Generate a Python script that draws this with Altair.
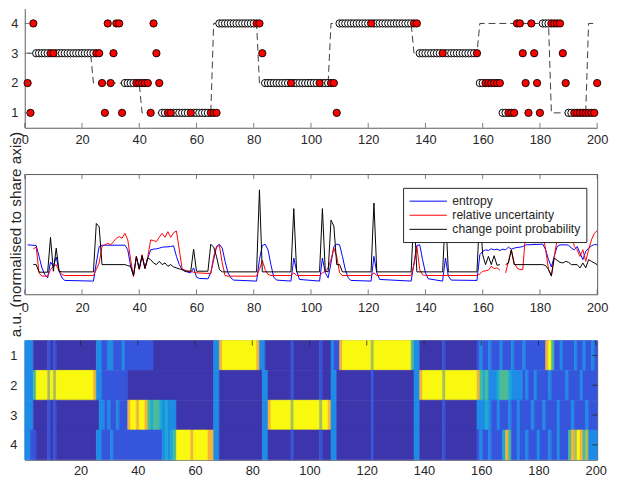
import altair as alt
import pandas as pd

FONT = "Liberation Sans"
TXT = "#262626"
AXC = "#5a5a5a"
W = 581
H_TOP = 121
H_MID = 122
H_BOT = 121

# ---------------- top panel: hidden state (dashed) ----------------
state_start = [1, 24, 41, 66, 82, 107, 136, 159, 184, 197]
state_end = [23, 40, 65, 81, 106, 135, 158, 183, 196, 200]
state_value = [3, 2, 1, 4, 2, 4, 3, 4, 1, 4]

# ---------------- top panel: choices (runs) ----------------
choice_start = [1, 2, 3, 4, 27, 28, 29, 30, 31, 32, 34, 35, 44, 45, 46, 47, 48, 68, 83, 84,
                109, 110, 138, 159, 167, 172, 174, 175, 176, 177, 178, 179, 180, 181, 188, 189, 190, 200]
choice_end = [1, 2, 3, 26, 27, 28, 29, 30, 31, 33, 34, 43, 44, 45, 46, 47, 67, 82, 83, 108,
              109, 137, 158, 166, 171, 173, 174, 175, 176, 177, 178, 179, 180, 187, 188, 189, 199, 200]
choice_value = [2, 1, 4, 3, 2, 1, 4, 2, 3, 4, 1, 2, 1, 4, 3, 2, 1, 4, 3, 2,
                1, 4, 3, 2, 1, 4, 3, 2, 1, 4, 3, 2, 1, 4, 3, 2, 1, 2]
red_trials = [1, 2, 3, 9, 10, 25, 26, 27, 28, 29, 30, 31, 32, 33, 34, 39, 40, 41, 42, 43, 44, 45, 46, 47,
              50, 51, 58, 65, 66, 67, 81, 82, 83, 93, 103, 107, 108, 109, 121, 136, 137, 146, 158,
              161, 162, 163, 164, 165, 166, 169, 170, 171, 172, 173, 174, 175, 176, 177, 178, 179, 180,
              184, 185, 186, 187, 188, 189, 192, 193, 194, 195, 196, 197, 198, 199, 200]

# ---------------- middle panel (a.u.) ----------------
entropy = [(1, 150), (4, 148), (5, 115), (6, 80), (7, 60), (8, 50), (9, 98), (10, 85), (11, 113), (12, 70),
           (13, 50), (14, 42), (24, 40), (25, 95), (26, 145), (27, 149), (35, 149), (36, 135), (37, 85),
           (38, 57), (39, 113), (40, 77), (41, 117), (42, 79), (43, 110), (44, 135), (45, 137), (46, 138),
           (47, 140), (48, 143), (50, 144), (51, 145), (52, 147), (53, 115), (54, 90), (55, 75), (56, 70),
           (57, 67), (58, 65), (59, 80), (60, 52), (61, 48), (64, 47), (65, 65), (66, 105), (67, 145),
           (68, 152), (69, 140), (70, 100), (71, 65), (72, 50), (73, 43), (81, 40), (82, 105), (83, 148),
           (84, 152), (85, 135), (86, 90), (87, 52), (88, 43), (93, 40), (94, 110), (95, 70), (96, 45),
           (103, 40), (104, 110), (105, 65), (106, 50), (107, 95), (108, 145), (109, 152), (110, 150),
           (111, 115), (112, 75), (113, 50), (114, 42), (121, 40), (122, 115), (123, 65), (124, 45),
           (135, 40), (136, 95), (137, 148), (138, 150), (139, 105), (140, 65), (141, 47), (146, 40),
           (147, 110), (148, 55), (149, 43), (158, 42), (159, 120), (160, 130), (161, 135), (162, 133),
           (163, 138), (164, 135), (165, 137), (166, 133), (167, 137), (168, 135), (169, 143), (170, 137),
           (171, 140), (172, 142), (173, 143), (174, 145), (175, 150), (181, 152), (182, 135), (183, 105),
           (184, 83), (185, 115), (186, 145), (187, 150), (189, 150), (190, 149), (191, 140), (192, 135),
           (193, 145), (194, 125), (195, 105), (196, 130), (197, 140), (198, 147), (199, 151), (200, 150)]

uncert_a = [(3, 138), (4, 143), (5, 65), (6, 55), (8, 55), (9, 75), (10, 85), (11, 90), (12, 70), (13, 60),
            (14, 57), (24, 57), (25, 75), (26, 95), (27, 145), (28, 150), (29, 155), (30, 150), (31, 160),
            (32, 170), (33, 175), (34, 170), (35, 185), (36, 165), (37, 105), (38, 53), (39, 115), (40, 75),
            (41, 120), (42, 77), (43, 115), (44, 165), (45, 163), (46, 160), (47, 173), (48, 185), (49, 173),
            (50, 190), (51, 173), (52, 187), (53, 192), (54, 135), (55, 77), (56, 73), (57, 70), (58, 70),
            (59, 67), (60, 65), (65, 63), (66, 115), (67, 143), (68, 148), (69, 95), (70, 57), (71, 55),
            (81, 55), (82, 75), (83, 103), (84, 75), (85, 60), (86, 57), (93, 57), (94, 65), (95, 57),
            (103, 57), (104, 65), (105, 70), (106, 80), (107, 105), (108, 140), (109, 115), (110, 65),
            (111, 57), (121, 57), (122, 65), (123, 57), (135, 57), (136, 90), (137, 145), (138, 75),
            (139, 59), (140, 57), (158, 57), (159, 62), (160, 70), (161, 71), (162, 73), (163, 85),
            (164, 78), (165, 80), (166, 73)]
uncert_b = [(168, 65), (169, 100), (170, 135), (171, 95), (172, 80), (173, 75), (174, 75), (175, 185),
            (176, 205), (177, 190), (178, 155), (179, 175), (180, 195), (181, 185), (182, 135), (183, 75),
            (184, 57), (185, 115), (186, 165), (187, 190), (188, 185), (189, 170), (190, 180), (191, 190),
            (192, 145), (193, 135), (194, 115), (195, 135), (196, 100), (197, 135), (198, 165), (199, 185),
            (200, 193)]

changep_a = [(3, 90), (4, 90), (5, 67), (8, 67), (9, 173), (10, 70), (11, 140), (12, 70), (13, 68), (24, 68),
             (25, 215), (26, 205), (27, 90), (35, 90), (36, 87), (37, 85), (38, 57), (39, 115), (40, 77),
             (41, 117), (42, 79), (43, 110), (44, 105), (45, 95), (46, 90), (47, 100), (48, 90), (49, 95),
             (50, 85), (51, 90), (52, 83), (53, 80), (54, 77), (55, 75), (56, 70), (58, 70), (59, 137),
             (60, 70), (64, 70), (65, 152), (66, 143), (67, 115), (68, 75), (69, 68), (81, 68), (82, 317),
             (83, 68), (93, 68), (94, 260), (95, 68), (103, 68), (104, 260), (105, 70), (106, 68), (107, 225),
             (108, 207), (109, 90), (110, 90), (111, 68), (121, 68), (122, 277), (123, 68), (135, 68),
             (136, 250), (137, 68), (146, 68), (147, 250), (148, 68), (158, 68), (159, 255), (160, 120),
             (161, 90), (162, 115), (163, 90), (164, 117), (165, 88), (166, 90)]
changep_b = [(168, 90), (169, 95), (170, 135), (171, 90), (181, 90), (182, 87), (183, 75), (184, 55),
             (185, 110), (186, 103), (187, 97), (188, 95), (189, 100), (190, 97), (191, 90), (193, 90),
             (194, 80), (195, 95), (196, 80), (197, 105), (198, 100), (199, 95), (200, 90)]

series_names = ["entropy", "relative uncertainty", "change point probability"]
series_colors = ["#0000ff", "#ff0000", "#000000"]

# ---------------- bottom panel: belief heatmap (runs of probability) ----------------
D, M, L, C, G, O, R, Y = 0.02, 0.12, 0.25, 0.4, 0.55, 0.7, 0.85, 1.0
row1 = [(1, 3, L), (4, 8, D), (9, 9, M), (10, 10, D), (11, 11, M), (12, 25, D), (26, 27, L), (28, 29, M),
        (30, 31, L), (32, 34, M), (35, 35, L), (36, 45, M), (46, 66, D), (67, 68, L), (69, 69, R),
        (70, 81, Y), (82, 82, R), (83, 84, L), (85, 93, D), (94, 94, M), (95, 103, D), (104, 104, M),
        (105, 107, D), (108, 108, L), (109, 110, M), (111, 111, R), (112, 121, Y), (122, 122, O),
        (123, 135, Y), (136, 136, G), (137, 138, L), (139, 146, D), (147, 147, M), (148, 158, D),
        (159, 159, M), (160, 160, L), (161, 162, M), (163, 163, L), (164, 166, M), (167, 167, L),
        (168, 170, M), (171, 171, L), (172, 174, M), (175, 175, L), (176, 182, M), (183, 183, R),
        (184, 184, Y), (185, 185, G), (186, 187, M), (188, 188, L), (189, 192, M), (193, 193, L),
        (194, 195, M), (196, 196, L), (197, 198, M), (199, 199, L), (200, 200, M)]
row2 = [(1, 3, L), (4, 4, G), (5, 8, Y), (9, 9, O), (10, 10, Y), (11, 11, O), (12, 24, Y), (25, 25, R),
        (26, 27, L), (28, 36, M), (37, 66, D), (67, 68, L), (69, 83, D), (84, 85, L), (86, 93, D),
        (94, 94, M), (95, 103, D), (104, 104, M), (105, 107, D), (108, 109, L), (110, 121, D),
        (122, 122, M), (123, 136, D), (137, 138, L), (139, 139, R), (140, 146, Y), (147, 147, O),
        (148, 158, Y), (159, 159, R), (160, 160, G), (161, 161, C), (162, 162, G), (163, 165, L),
        (166, 166, C), (167, 169, G), (170, 170, C), (171, 174, L), (175, 175, M), (176, 176, L),
        (177, 178, M), (179, 179, L), (180, 183, M), (184, 184, L), (185, 189, M), (190, 190, L),
        (191, 194, M), (195, 195, L), (196, 200, M)]
row3 = [(1, 3, L), (4, 8, D), (9, 9, M), (10, 10, D), (11, 11, M), (12, 26, D), (27, 28, L), (29, 29, M),
        (30, 30, L), (31, 32, M), (33, 33, L), (34, 36, M), (37, 37, R), (38, 39, Y), (40, 40, R),
        (41, 42, Y), (43, 43, R), (44, 44, G), (45, 45, C), (46, 47, G), (48, 48, C), (49, 49, L),
        (50, 50, C), (51, 53, L), (54, 66, D), (67, 68, L), (69, 83, D), (84, 85, L), (86, 86, R),
        (87, 93, Y), (94, 94, O), (95, 103, Y), (104, 104, O), (105, 106, Y), (107, 107, R),
        (108, 109, L), (110, 121, D), (122, 122, M), (123, 136, D), (137, 138, L), (139, 146, D),
        (147, 147, M), (148, 158, D), (159, 161, L), (162, 162, C), (163, 163, L), (164, 165, M),
        (166, 166, L), (167, 169, M), (170, 170, L), (171, 172, M), (173, 173, L), (174, 177, M),
        (178, 178, L), (179, 181, M), (182, 182, L), (183, 186, M), (187, 187, L), (188, 191, M),
        (192, 192, L), (193, 196, M), (197, 197, L), (198, 200, M)]
row4 = [(1, 2, L), (3, 4, M), (5, 8, D), (9, 9, M), (10, 10, D), (11, 11, M), (12, 25, D), (26, 27, L),
        (28, 30, M), (31, 31, L), (32, 48, M), (49, 49, L), (50, 50, C), (51, 51, L), (52, 52, C),
        (53, 53, G), (54, 58, Y), (59, 59, R), (60, 64, Y), (65, 66, R), (67, 68, L), (69, 83, D),
        (84, 85, L), (86, 93, D), (94, 94, M), (95, 103, D), (104, 104, M), (105, 107, D), (108, 109, L),
        (110, 121, D), (122, 122, M), (123, 136, D), (137, 138, L), (139, 146, D), (147, 147, M),
        (148, 158, D), (159, 159, M), (160, 160, L), (161, 162, M), (163, 163, L), (164, 167, M),
        (168, 168, C), (169, 169, R), (170, 170, G), (171, 172, M), (173, 173, L), (174, 175, M),
        (176, 176, L), (177, 179, M), (180, 180, L), (181, 183, M), (184, 184, L), (185, 186, M),
        (187, 187, L), (188, 190, M), (191, 191, G), (192, 192, R), (193, 193, O), (194, 194, Y),
        (195, 195, R), (196, 196, G), (197, 197, O), (198, 200, L)]
heat_rows = [row1, row2, row3, row4]

parula_domain = [0.0, 0.12, 0.25, 0.4, 0.55, 0.7, 0.85, 1.0]
parula_range = ["#3c2fa2", "#3556dc", "#1e8ce6", "#18aed0", "#4fbb96", "#a9bd58", "#f4b43a", "#f9f90f"]

x_ticks = list(range(0, 201, 20))
x_ticks_heat = list(range(20, 201, 20))
y_ticks = [1, 2, 3, 4]

# ---------------- build tables ----------------
state_rows = []
for s, e, v in zip(state_start, state_end, state_value):
    state_rows.append({"t": s, "y": v})
    state_rows.append({"t": e, "y": v})
state_df = pd.DataFrame(state_rows)

ch_rows = []
for s, e, v in zip(choice_start, choice_end, choice_value):
    for t in range(s, e + 1):
        ch_rows.append({"t": t, "y": v, "red": t in red_trials})
ch_df = pd.DataFrame(ch_rows)
open_df = ch_df[~ch_df["red"]]
red_df = ch_df[ch_df["red"]]

mid_rows = []
for name, seg, pairs in [(series_names[0], "e", entropy),
                         (series_names[1], "u1", uncert_a), (series_names[1], "u2", uncert_b),
                         (series_names[2], "c1", changep_a), (series_names[2], "c2", changep_b)]:
    for t, v in pairs:
        mid_rows.append({"t": t, "v": v, "series": name, "seg": seg})
mid_df = pd.DataFrame(mid_rows)

heat_recs = []
for r, runs in enumerate(heat_rows, start=1):
    for s, e, p in runs:
        heat_recs.append({"x0": s - 0.5, "x1": e + 0.5, "y0": r - 0.5, "y1": r + 0.5, "p": p})
heat_df = pd.DataFrame(heat_recs)

xt_df = pd.DataFrame({"t": x_ticks})
xth_df = pd.DataFrame({"t": x_ticks_heat})
yt_df = pd.DataFrame({"y": y_ticks})

# ---------------- top panel ----------------
xs_top = alt.Scale(domain=[0, 200], nice=False, zero=False)
ys_top = alt.Scale(domain=[0.5, 4.5], nice=False, zero=False)
xax_top = alt.Axis(values=x_ticks, title=None, labelPadding=6, domain=True, labelOverlap=False)
yax_top = alt.Axis(values=y_ticks, title=None, labelPadding=7, domain=True, labelOverlap=False,
                   format="d")

def xt(field="t:Q"):
    return alt.X(field, scale=xs_top, axis=xax_top)

def yt(field="y:Q"):
    return alt.Y(field, scale=ys_top, axis=yax_top)

state_line = alt.Chart(state_df).mark_line(color=TXT, strokeWidth=0.9, strokeDash=[7, 4]).encode(
    x=xt(), y=yt())
open_pts = alt.Chart(open_df).mark_circle(fill="white", stroke="#000000", strokeWidth=1.0, size=55, opacity=1).encode(
    x=xt(), y=yt())
red_pts = alt.Chart(red_df).mark_circle(fill="#ff0000", stroke="#000000", strokeWidth=0.9, size=55, opacity=1).encode(
    x=xt(), y=yt())
ytick_top = alt.Chart(yt_df).mark_rule(color=AXC, strokeWidth=0.8).encode(
    y=yt(), x=alt.value(0), x2=alt.value(5))
xtick_top = alt.Chart(xt_df).mark_rule(color=AXC, strokeWidth=0.8).encode(
    x=xt(), y=alt.value(H_TOP), y2=alt.value(H_TOP - 5))

top = alt.layer(state_line, open_pts, red_pts, ytick_top, xtick_top).properties(
    width=W, height=H_TOP, view=alt.ViewBackground(stroke=None))

# ---------------- middle panel ----------------
ys_mid = alt.Scale(domain=[0, 365], nice=False, zero=False)
lines = alt.Chart(mid_df).mark_line(strokeWidth=1).encode(
    x=alt.X("t:Q", scale=xs_top, axis=alt.Axis(values=x_ticks, title=None, labelPadding=7, domain=False)),
    y=alt.Y("v:Q", scale=ys_mid, axis=alt.Axis(title="a.u. (normalised to share axis)", labels=False,
                                               ticks=False, domain=False, titlePadding=1,
                                               titleFontSize=15.5, titleFont=FONT, titleLimit=400,
                                               titleFontWeight="normal", titleColor=TXT)),
    color=alt.Color("series:N", scale=alt.Scale(domain=series_names, range=series_colors),
                    legend=alt.Legend(title=None, orient="none", legendX=384, legendY=14,
                                      fillColor="white", strokeColor=TXT, padding=6,
                                      symbolType="M-1,0H4.43", symbolSize=196, symbolStrokeWidth=1,
                                      labelOffset=29, labelFontSize=12.3, rowPadding=0.3)),
    detail="seg:N",
)
xtick_mid_top = alt.Chart(xt_df).mark_rule(color=AXC, strokeWidth=0.8).encode(
    x=alt.X("t:Q", scale=xs_top), y=alt.value(0), y2=alt.value(5))
xtick_mid_bot = alt.Chart(xt_df).mark_rule(color=AXC, strokeWidth=0.8).encode(
    x=alt.X("t:Q", scale=xs_top), y=alt.value(H_MID), y2=alt.value(H_MID - 5))
mid = alt.layer(lines, xtick_mid_top, xtick_mid_bot).properties(
    width=W, height=H_MID, view=alt.ViewBackground(stroke=AXC, strokeWidth=1))

# ---------------- bottom panel ----------------
xs_bot = alt.Scale(domain=[0.5, 200.5], nice=False, zero=False)
ys_bot = alt.Scale(domain=[0.5, 4.5], nice=False, zero=False, reverse=True)
heat = alt.Chart(heat_df).mark_rect(strokeWidth=0.6).encode(
    x=alt.X("x0:Q", scale=xs_bot, axis=alt.Axis(values=x_ticks_heat, title=None, labelPadding=5, domain=False)),
    x2="x1:Q",
    y=alt.Y("y0:Q", scale=ys_bot, axis=alt.Axis(values=y_ticks, title=None, labelPadding=8, domain=False)),
    y2="y1:Q",
    fill=alt.Fill("p:Q", scale=alt.Scale(domain=parula_domain, range=parula_range), legend=None),
    stroke=alt.Stroke("p:Q", scale=alt.Scale(domain=parula_domain, range=parula_range), legend=None),
)
xtick_heat = alt.Chart(xth_df).mark_rule(color=TXT, strokeWidth=0.8).encode(
    x=alt.X("t:Q", scale=xs_bot), y=alt.value(0), y2=alt.value(5))
ytick_heat = alt.Chart(yt_df).mark_rule(color=TXT, strokeWidth=0.8).encode(
    y=alt.Y("y:Q", scale=ys_bot), x=alt.value(W), x2=alt.value(W - 5))
bot = alt.layer(heat, xtick_heat, ytick_heat).properties(
    width=W, height=H_BOT, view=alt.ViewBackground(stroke=AXC, strokeWidth=1))

chart = alt.vconcat(top, mid, bot, spacing=47, bounds="flush").resolve_legend(
    color="independent", fill="independent", stroke="independent"
).resolve_scale(
    color="independent", fill="independent", stroke="independent"
).properties(
    padding={"left": 0, "top": -3, "right": 0, "bottom": 0}
).configure_axis(
    labelFont=FONT, labelFontSize=13, labelColor=TXT, titleFont=FONT, titleFontSize=15.5,
    titleFontWeight="normal", titleColor=TXT, domainColor=AXC, domainWidth=1, ticks=False,
    tickSize=0, grid=False, labelFlush=False, labelOverlap=False
).configure_legend(labelFont=FONT, labelColor=TXT)

chart.save("out.html", embed_options={"renderer": "svg", "actions": False})
